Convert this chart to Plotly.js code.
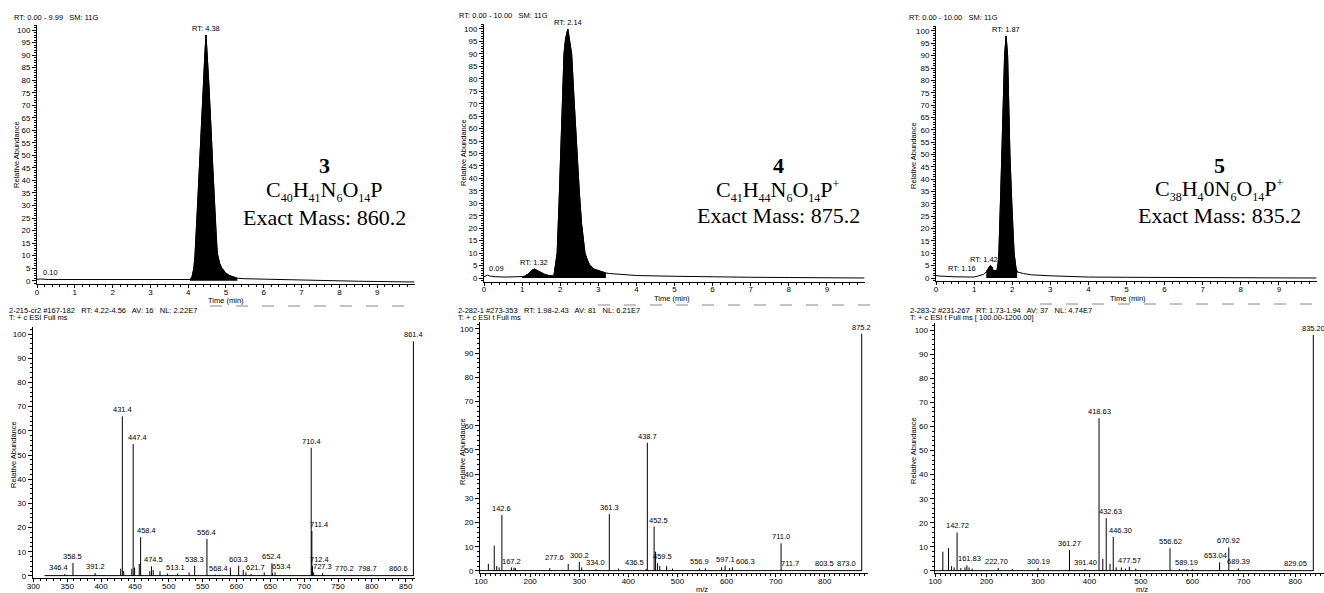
<!DOCTYPE html>
<html><head><meta charset="utf-8">
<script src="https://cdn.plot.ly/plotly-3.0.1.min.js"></script>
<style>html,body{margin:0;padding:0;background:#fff}#chart{width:1324px;height:593px}</style>
</head><body><div id="chart"></div>
<script>
// ---------- Chromatograms (time in min, relative abundance) ----------
const rt3 = [0,0.1,0.3,0.6,1.0,1.5,2.0,2.5,3.0,3.5,3.9,4.05,4.1,4.15,4.18,4.25,4.3,4.35,4.4,4.44,4.47,4.5,4.55,4.6,4.65,4.7,4.74,4.77,4.83,4.89,5.0,5.1,5.2,5.3,5.5,6.0,6.5,7.0,7.5,8.0,8.5,9.0,9.5,9.99];
const ab3 = [0.6,0.7,0.5,0.5,0.4,0.3,0.2,0.3,0.4,0.2,0.2,0.5,1.5,5,10,30,47,62,77,90,98,91,78,62,45,30,17,11,7,5,3,2,1.5,1,0.8,0.6,0.4,0.2,0.1,0,-0.2,-0.3,-0.4,-0.5];
const rt4 = [0,0.05,0.09,0.15,0.3,0.6,1.0,1.05,1.15,1.25,1.32,1.4,1.5,1.6,1.7,1.8,1.84,1.88,1.92,1.97,2.01,2.06,2.1,2.14,2.2,2.25,2.3,2.37,2.44,2.5,2.56,2.6,2.65,2.72,2.78,2.9,3.0,3.1,3.2,3.3,3.5,4.0,5.0,6.0,7.0,8.0,9.0,9.99];
const ab4 = [0.5,1.0,1.2,0.8,0.5,0.4,0.4,0.6,1.5,3,3.6,3,2,1.4,1,0.8,1.5,5,10,30,50,70,90,96,100,95,90,70,50,35,22,16,10,7,5,3.5,3,2.2,2,1.8,1.5,1.0,0.7,0.4,0.3,0.2,0.1,0];
const rt5 = [0,0.1,0.5,1.0,1.1,1.16,1.25,1.32,1.37,1.42,1.47,1.5,1.55,1.6,1.63,1.65,1.7,1.73,1.77,1.8,1.84,1.88,1.91,1.94,1.99,2.05,2.1,2.13,2.3,2.5,3.0,3.5,4.0,5,6,7,8,9,9.99];
const ab5 = [1.0,0.8,0.5,0.4,0.8,1.2,1.5,2.5,4,5,4.5,3,3,3,6,10,35,50,70,90,98,90,70,50,30,10,4,2.5,1.8,1.3,0.9,0.6,0.4,0.3,0.2,0.2,0.1,0.1,0];

// RT labels on chromatograms
const rtLabText3 = ['RT: 4.38', '0.10'];
const rtLabT3    = [4.47, 0.1];
const rtLabA3    = [98, 0.8];
const rtLabText4 = ['RT: 2.14', 'RT: 1.32', '0.09'];
const rtLabT4    = [2.2, 1.32, 0.09];
const rtLabA4    = [100, 3.6, 1.2];
const rtLabText5 = ['RT: 1.87', 'RT: 1.42', 'RT: 1.16'];
const rtLabT5    = [1.84, 1.42, 1.16];
const rtLabA5    = [98, 5, 1.2];

// ---------- Mass spectra (m/z, relative abundance, label) ----------
const ms3Mz  = [346.4,358.5,391.2,431.4,447.4,458.4,474.5,513.1,538.3,556.4,568.4,603.3,621.7,652.4,653.4,710.4,711.4,712.4,727.3,770.2,798.7,860.6,861.4,
                429,433.5,445.5,449.5,456.4,472,477,487,498,530,591,610,614,641,657,714];
const ms3Int = [0.8,5.4,1.2,66,54.5,16,4,1,4.3,15.3,0.6,4.3,0.8,5.2,1.2,53,18.6,4.1,1.2,0.3,0.3,0.3,97,
                3,2,3,3.5,5,2,2.5,2,1,1.5,3.5,2.5,1.5,1.5,1.5,1.5];
const ms3Lab = ['346.4','358.5','391.2','431.4','447.4','458.4','474.5','513.1','538.3','556.4','568.4','603.3','621.7','652.4','653.4','710.4','711.4','712.4','727.3','770.2','798.7','860.6','861.4'];

const ms4Mz  = [142.6,167.2,277.6,300.2,334.0,361.3,436.5,438.7,452.5,459.5,556.9,597.1,606.3,711.0,711.7,803.5,873.0,875.2,
                115,127,132,137,162,170,240,305,380,455.5,464,478,490,545,590,612];
const ms4Int = [23.1,1.4,2.9,3.8,0.8,23.5,0.8,53,18.3,3.2,1.1,2.2,1.2,11.4,0.5,0.3,0.3,98,
                3,10.5,2,1.5,1.5,1.2,1.2,1.5,1,8,2,2,1,1,1.5,1.5];
const ms4Lab = ['142.6','167.2','277.6','300.2','334.0','361.3','436.5','438.7','452.5','459.5','556.9','597.1','606.3','711.0','711.7','803.5','873.0','875.2'];

const ms5Mz  = [142.72,161.83,222.70,300.19,361.27,391.40,418.63,432.63,446.30,477.57,556.62,589.19,653.04,670.92,689.39,829.05,835.20,
                115,126,132,137,150,158,166,172,250,426,440,452,462,470,490,575,600];
const ms5Int = [16,2.3,1.3,1.3,8.7,0.8,63.4,21.9,14.2,1.8,9.4,0.7,3.6,9.8,1.1,0.3,98,
                8,9.5,2,1.5,1.2,1.5,1.5,1,0.8,5,3,1.5,1.5,1,1,0.8,0.8];
const ms5Lab = ['142.72','161.83','222.70','300.19','361.27','391.40','418.63','432.63','446.30','477.57','556.62','589.19','653.04','670.92','689.39','829.05','835.20'];

// ---------- Texts ----------
const chromHeaders = ['RT: 0.00 - 9.99   SM: 11G','RT: 0.00 - 10.00   SM: 11G','RT: 0.00 - 10.00   SM: 11G'];
const specHeaders1 = ['2-215-cr2 #167-182   RT: 4.22-4.56   AV: 16   NL: 2.22E7',
                      '2-282-1 #273-353   RT: 1.98-2.43   AV: 81   NL: 6.21E7',
                      '2-283-2 #231-267   RT: 1.73-1.94   AV: 37   NL: 4.74E7'];
const specHeaders2 = ['T: + c ESI Full ms','T: + c ESI t Full ms','T: + c ESI t Full ms [ 100.00-1200.00]'];
const compoundIds = ['3','4','5'];
const S = s => '<sub><span style="font-size:12px">' + s + '</span></sub>';
const compoundFormulas = [
  'C' + S('40') + 'H' + S('41') + 'N' + S('6') + 'O' + S('14') + 'P',
  'C' + S('41') + 'H' + S('44') + 'N' + S('6') + 'O' + S('14') + 'P<sup><span style="font-size:12px">+</span></sup>',
  'C' + S('38') + 'H' + S('4') + '0N' + S('6') + 'O' + S('14') + 'P<sup><span style="font-size:12px">+</span></sup>'
];
const compoundMasses = ['Exact Mass: 860.2','Exact Mass: 875.2','Exact Mass: 835.2'];

// ---------- Layout helpers ----------
const W = 1324, H = 593;
const px = x => x / W;
const py = y => 1 - y / H;
const SANS = 'Liberation Sans, Arial, sans-serif';
const SERIF = 'Liberation Serif, Times New Roman, serif';

function axis(dom, range, dtick, minor, anchor, isY) {
  const a = {
    domain: dom, range: range, dtick: dtick, tick0: 0, anchor: anchor,
    showline: true, linecolor: '#000', linewidth: 1, mirror: false,
    ticks: 'outside', ticklen: isY ? 4 : 3, tickwidth: 1, tickcolor: '#000',
    showgrid: false, zeroline: false, fixedrange: true,
    tickfont: {family: SANS, size: 8, color: '#000'},
    minor: {dtick: minor, ticks: 'outside', ticklen: 2, tickcolor: '#000', showgrid: false},
    automargin: false
  };
  if (!isY) a.ticklabelstandoff = -3;
  return a;
}

const layout = {
  width: W, height: H, autosize: false,
  margin: {l: 0, r: 0, t: 0, b: 0},
  paper_bgcolor: '#fff', plot_bgcolor: 'rgba(0,0,0,0)',
  showlegend: false,
  xaxis:  axis([px(37),  px(414.6)], [0, 9.99], 1, 0.2, 'y', false),
  yaxis:  axis([py(284), py(25)], [-1.3, 102], 5, 1, 'x', true),
  xaxis2: axis([px(484), px(864.6)], [0, 9.99], 1, 0.2, 'y2', false),
  yaxis2: axis([py(281.5), py(24)], [-1.4, 102], 5, 1, 'x2', true),
  xaxis3: axis([px(936), px(1316.6)], [0, 9.99], 1, 0.2, 'y3', false),
  yaxis3: axis([py(281), py(26)], [-1.2, 102], 5, 1, 'x3', true),
  xaxis4: axis([px(32.7), px(414.5)], [299, 863], 50, 10, 'y4', false),
  yaxis4: axis([py(578.4), py(326.8)], [-1, 103], 10, 2, 'x4', true),
  xaxis5: axis([px(480), px(868)], [98, 888], 100, 10, 'y5', false),
  yaxis5: axis([py(573.4), py(321.7)], [-1, 103], 10, 2, 'x5', true),
  xaxis6: axis([px(934.6), px(1324)], [99, 856], 100, 10, 'y6', false),
  yaxis6: axis([py(573.4), py(322.8)], [-1, 103], 10, 2, 'x6', true),
  annotations: [],
  shapes: []
};

const traces = [];
// chromatograms
function chrom(t, a, win, xa, ya) {
  traces.push({x: t, y: a, xaxis: xa, yaxis: ya, type: 'scatter', mode: 'lines',
               line: {color: '#000', width: 1}, hoverinfo: 'skip'});
  const ft = [], fa = [];
  t.forEach((v, i) => { if (v >= win[0] && v <= win[1]) { ft.push(v); fa.push(a[i]); } });
  traces.push({x: ft, y: fa, xaxis: xa, yaxis: ya, type: 'scatter', mode: 'lines',
               fill: 'tozeroy', fillcolor: '#000', line: {color: '#000', width: 1}, hoverinfo: 'skip'});
}
chrom(rt3, ab3, [4.05, 5.3], 'x', 'y');
chrom(rt4, ab4, [1.0, 3.2], 'x2', 'y2');
chrom(rt5, ab5, [1.3, 2.13], 'x3', 'y3');

// spectra as sticks
function sticks(mz, inten, xa, ya) {
  const xs = [], ys = [];
  mz.forEach((m, i) => { xs.push(m, m, null); ys.push(0, inten[i], null); });
  traces.push({x: xs, y: ys, xaxis: xa, yaxis: ya, type: 'scatter', mode: 'lines',
               line: {color: '#000', width: 1}, hoverinfo: 'skip', connectgaps: false});
  traces.push({x: [Math.min(...mz) - 30, Math.max(...mz)], y: [0.15, 0.15], xaxis: xa, yaxis: ya,
               type: 'scatter', mode: 'lines', line: {color: '#000', width: 1}, hoverinfo: 'skip'});
}
sticks(ms3Mz, ms3Int, 'x4', 'y4');
sticks(ms4Mz, ms4Int, 'x5', 'y5');
sticks(ms5Mz, ms5Int, 'x6', 'y6');

// label nudges (pixels) for crowded labels
const nudge4 = {'346.4': -6, '447.4': 4, '458.4': 6, '474.5': 2, '513.1': -2, '568.4': 3, '621.7': 4, '653.4': 9, '711.4': 7, '712.4': 7, '770.2': -7, '798.7': -3, '860.6': -14};
const nudge5 = {'167.2': -2, '277.6': -14, '436.5': -12, '452.5': 4, '459.5': 5, '556.9': -6, '606.3': 16, '711.7': 9, '803.5': -2, '873.0': -14};
const nudge6 = {'161.83': 3, '222.70': -2, '432.63': 4, '446.30': 7, '653.04': -4, '829.05': -15};

function peakLabels(mz, inten, labs, xa, ya, nudge) {
  labs.forEach((t, i) => {
    layout.annotations.push({x: mz[i], y: inten[i], xref: xa, yref: ya, text: t, showarrow: false,
      xanchor: 'center', yanchor: 'bottom', xshift: nudge[t] || 0, yshift: 0,
      font: {family: SANS, size: 7.5, color: '#000'}});
  });
}
peakLabels(ms3Mz, ms3Int, ms3Lab, 'x4', 'y4', nudge4);
peakLabels(ms4Mz, ms4Int, ms4Lab, 'x5', 'y5', nudge5);
peakLabels(ms5Mz, ms5Int, ms5Lab, 'x6', 'y6', nudge6);

function rtLabels(texts, ts, as, xa, ya) {
  texts.forEach((t, i) => {
    let xanchor = 'center', xshift = 0;
    if (/^0\./.test(t)) { xanchor = 'left'; xshift = 0; }
    if (t === 'RT: 1.16') { xanchor = 'right'; xshift = -2; }
    if (t === 'RT: 1.42') { xshift = -6; }
    layout.annotations.push({x: ts[i], y: as[i], xref: xa, yref: ya, text: t, showarrow: false,
      xanchor: xanchor, yanchor: 'bottom', xshift: xshift, yshift: 0,
      font: {family: SANS, size: 7.5, color: '#000'}});
  });
}
rtLabels(rtLabText3, rtLabT3, rtLabA3, 'x', 'y');
rtLabels(rtLabText4, rtLabT4, rtLabA4, 'x2', 'y2');
rtLabels(rtLabText5, rtLabT5, rtLabA5, 'x3', 'y3');

function paperText(text, X, Y, opts) {
  layout.annotations.push(Object.assign({x: px(X), y: py(Y), xref: 'paper', yref: 'paper', text: text,
    showarrow: false, xanchor: 'center', yanchor: 'middle',
    font: {family: SANS, size: 7.5, color: '#000'}}, opts || {}));
}

// chromatogram headers
paperText(chromHeaders[0], 12, 17, {xanchor: 'left'});
paperText(chromHeaders[1], 457, 15, {xanchor: 'left'});
paperText(chromHeaders[2], 907, 17, {xanchor: 'left'});
// spectrum headers
[7, 456, 908].forEach((X, i) => {
  paperText(specHeaders1[i], X, 310, {xanchor: 'left'});
  paperText(specHeaders2[i], X, 317.5, {xanchor: 'left'});
});
// axis titles
[[16,155],[463,153],[913,155],[13,455],[462,452],[913,450]].forEach(p =>
  paperText('Relative Abundance', p[0], p[1], {textangle: -90}));
[[226,300],[672,298.5],[1128,298]].forEach(p => paperText('Time (min)', p[0], p[1]));
[[702,589],[1142,589]].forEach(p => paperText('m/z', p[0], p[1]));

// compound annotations
[[324,165,191,217],[778,166,191,215],[1219,165,190,215]].forEach((p, i) => {
  paperText('<b>' + compoundIds[i] + '</b>', p[0], p[1], {font: {family: SERIF, size: 22, color: '#000'}});
  paperText(compoundFormulas[i], p[0], p[2], {font: {family: SERIF, size: 22, color: '#000'}});
  paperText(compoundMasses[i], p[0], p[3], {font: {family: SERIF, size: 22, color: '#000'}});
});

// faint dashed scan lines between rows
[[210, 413, 306], [598, 870, 305], [1040, 1320, 304]].forEach(s => {
  layout.shapes.push({type: 'line', xref: 'paper', yref: 'paper', x0: px(s[0]), x1: px(s[1]), y0: py(s[2]), y1: py(s[2]),
    line: {color: '#888', width: 1, dash: '12px,14px'}});
});

Plotly.newPlot('chart', traces, layout, {staticPlot: true, displayModeBar: false});
</script></body></html>
